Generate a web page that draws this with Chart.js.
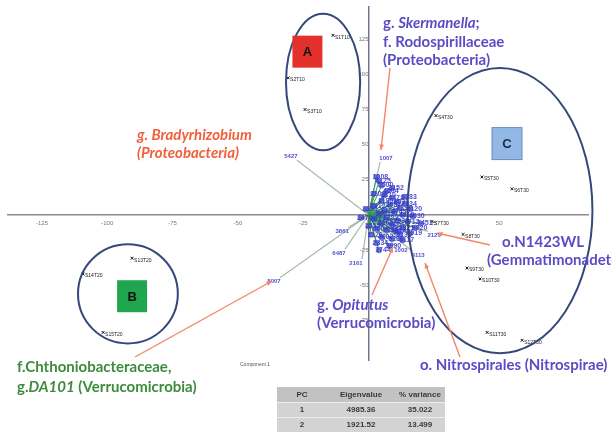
<!DOCTYPE html>
<html>
<head>
<meta charset="utf-8">
<script src="https://cdn.jsdelivr.net/npm/chart.js@4.4.1/dist/chart.umd.min.js"></script>
<style>
  html, body { margin: 0; padding: 0; background: #fff; }
</style>
</head>
<body>
<canvas id="pcaChart" width="612" height="433"></canvas>
<script>
// sample scores (component 1, component 2)
const sampleNames = ['S1T10', 'S2T10', 'S3T10', 'S4T30', 'S5T30', 'S6T30', 'S7T30', 'S8T30', 'S9T30', 'S10T30', 'S11T30', 'S12T30', 'S13T20', 'S14T20', 'S15T20'];
const sampleX = [-13.6, -30.8, -24.3, 25.8, 43.4, 54.9, 24.3, 36.2, 37.7, 42.7, 45.4, 58.8, -90.5, -109.3, -101.6];
const sampleY = [127.6, 97.4, 74.9, 70.6, 27.0, 18.6, -4.6, -13.8, -37.7, -45.4, -83.4, -89.0, -30.7, -41.9, -83.4];

// long OTU loadings (drawn as vectors)
const loadNames = ['5427', '1007', '8007', '3861', '6487', '2161', '1002', '4113', '2120'];
const loadX = [-27.4, 4.4, -33.9, -7.8, -9.0, -2.5, 10.1, 16.7, 22.8];
const loadY = [38.9, 37.5, -44.6, -8.9, -24.3, -31.4, -22.2, -25.7, -11.7];

// short OTU loadings around the origin
const otuNames = ['1008', '4125', '5500', '2203', '3310', '4471', '1190', '6021', '7334', '2087', '5512', '3390', '8120', '1466', '2745', '3001', '4419', '6630', '1283', '5077', '2938', '7712', '3365', '4480', '1921', '6604', '2551', '3877', '7019', '1120', '4602', '5288', '6117', '2334', '3990', '1555', '2470', '3615', '7451', '6920', '5133', '4004', '3152', '6283', '1744', '2619'];
const otuX = [3, 4, 5, 2, 6, 9, 5, 11, 14, 8, 2, 12, 16, 6, 10, 4, 13, 17, 7, 2, 11, 15, 5, 9, 13, 3, 7, 11, 16, 1, 5, 9, 13, 3, 8, 0, -3, -1, 20, 18, 12, 7, 9, 14, 4, 10];
const otuY = [27, 24, 21, 15, 14, 12, 10, 9, 8, 7, 6, 5, 4, 3, 2, 1, 0, -1, -2, -3, -4, -5, -6, -7, -9, -10, -11, -12, -13, -14, -16, -17, -18, -20, -22, -8, -2, 4, -6, -9, -14, 17, 19, 13, -25, -11];

// eigenvalue table
const pcLabels = ['1', '2'];
const eigenvalues = ['4985.36', '1921.52'];
const variances = ['35.022', '13.499'];

const xTicks = [-125, -100, -75, -50, -25, 25, 50];
const yTicks = [-75, -50, -25, 25, 50, 75, 100, 125];

// groups drawn as ellipses, in data units
const groups = [
  { name: 'A', cx: -17.4, cy: 94.5, rx: 14.2, ry: 48.5, box: [-23.4, 116.0], fill: '#e4302a', text: '#111' },
  { name: 'B', cx: -92.1, cy: -56.0, rx: 19.1, ry: 35.2, box: [-90.5, -57.7], fill: '#1fa64f', text: '#111' },
  { name: 'C', cx: 50.3, cy: 3.1, rx: 35.4, ry: 101.3, box: [53.0, 50.7], fill: '#92b9e6', text: '#1d2a44' }
];

const purple = '#5a4cc4';
const notes = [
  { x: 383, y: 23, color: purple, parts: [['g. ', 0], ['Skermanella', 1], [';', 0]] },
  { x: 383, y: 42, color: purple, parts: [['f. Rodospirillaceae', 0]] },
  { x: 383, y: 60, color: purple, parts: [['(Proteobacteria)', 0]] },
  { x: 137, y: 135, color: '#f1603c', parts: [['g. Bradyrhizobium', 1]] },
  { x: 137, y: 153, color: '#f1603c', parts: [['(Proteobacteria)', 1]] },
  { x: 502, y: 242, color: purple, parts: [['o.N1423WL', 0]] },
  { x: 487, y: 260, color: purple, parts: [['(Gemmatimonadetes)', 0]] },
  { x: 317, y: 305, color: purple, parts: [['g. ', 0], ['Opitutus', 1]] },
  { x: 317, y: 323, color: purple, parts: [['(Verrucomicrobia)', 0]] },
  { x: 420, y: 365, color: purple, parts: [['o. Nitrospirales (Nitrospirae)', 0]] },
  { x: 17, y: 367, color: '#3c8c3c', parts: [['f.Chthoniobacteraceae,', 0]] },
  { x: 17, y: 387, color: '#3c8c3c', parts: [['g.', 0], ['DA101', 1], [' (Verrucomicrobia)', 0]] }
];

const arrows = [
  [390, 68, 381, 150],
  [135, 357, 272, 281],
  [490, 245, 437, 233],
  [460, 357, 425, 263],
  [372, 295, 393, 247]
];

function drawArrow(ctx, x1, y1, x2, y2) {
  const a = Math.atan2(y2 - y1, x2 - x1);
  ctx.strokeStyle = '#f3866a';
  ctx.fillStyle = '#f3866a';
  ctx.lineWidth = 1.4;
  ctx.beginPath();
  ctx.moveTo(x1, y1);
  ctx.lineTo(x2, y2);
  ctx.stroke();
  ctx.beginPath();
  ctx.moveTo(x2, y2);
  ctx.lineTo(x2 - 6 * Math.cos(a - 0.4), y2 - 6 * Math.sin(a - 0.4));
  ctx.lineTo(x2 - 6 * Math.cos(a + 0.4), y2 - 6 * Math.sin(a + 0.4));
  ctx.closePath();
  ctx.fill();
}

const overlay = {
  id: 'overlay',
  afterDatasetsDraw(chart) {
    const { ctx, scales: { x, y } } = chart;
    ctx.save();

    // OTU labels
    ctx.font = 'bold 7px "Liberation Sans"';
    ctx.fillStyle = 'rgba(58, 60, 205, 0.9)';
    ctx.textAlign = 'center';
    ctx.textBaseline = 'middle';
    otuNames.forEach((n, i) => ctx.fillText(n, x.getPixelForValue(otuX[i]) + 4, y.getPixelForValue(otuY[i])));
    ctx.font = 'bold 6px "Liberation Sans"';
    loadNames.forEach((n, i) => {
      const px = x.getPixelForValue(loadX[i]);
      const py = y.getPixelForValue(loadY[i]);
      ctx.fillText(n, px + (loadX[i] < 0 ? -6 : 6), py + (loadY[i] < 0 ? 4 : -4));
    });

    // sample labels
    ctx.font = '5px "Liberation Sans"';
    ctx.fillStyle = '#222';
    ctx.textAlign = 'left';
    sampleNames.forEach((n, i) => ctx.fillText(n, x.getPixelForValue(sampleX[i]) + 2, y.getPixelForValue(sampleY[i]) + 2));

    // group ellipses and boxes
    groups.forEach(g => {
      const cx = x.getPixelForValue(g.cx);
      const cy = y.getPixelForValue(g.cy);
      const rx = Math.abs(x.getPixelForValue(g.cx + g.rx) - cx);
      const ry = Math.abs(y.getPixelForValue(g.cy + g.ry) - cy);
      ctx.strokeStyle = '#34497a';
      ctx.lineWidth = 2;
      ctx.beginPath();
      ctx.ellipse(cx, cy, rx, ry, 0, 0, Math.PI * 2);
      ctx.stroke();
      const bx = x.getPixelForValue(g.box[0]);
      const by = y.getPixelForValue(g.box[1]);
      ctx.fillStyle = g.fill;
      ctx.fillRect(bx - 15, by - 16, 30, 32);
      if (g.name === 'C') {
        ctx.strokeStyle = '#6d8bb3';
        ctx.lineWidth = 1;
        ctx.strokeRect(bx - 15, by - 16, 30, 32);
      }
      ctx.fillStyle = g.text;
      ctx.font = 'bold 13px "Liberation Sans"';
      ctx.textAlign = 'center';
      ctx.fillText(g.name, bx, by + 1);
    });

    // arrows
    arrows.forEach(a => drawArrow(ctx, a[0], a[1], a[2], a[3]));

    // annotations
    ctx.textAlign = 'left';
    ctx.textBaseline = 'middle';
    notes.forEach(n => {
      let px = n.x;
      n.parts.forEach(([t, it]) => {
        ctx.font = (it ? 'italic ' : '') + 'bold 15px Lato';
        ctx.fillStyle = n.color;
        ctx.fillText(t, px, n.y);
        px += ctx.measureText(t).width;
      });
    });

    ctx.font = '5px "Liberation Sans"';
    ctx.fillStyle = '#555';
    ctx.fillText('Component 1', 240, 365);

    // eigenvalue table
    const tx = 277, tw = 168, cols = [302, 361, 420];
    ctx.fillStyle = '#d3d3d3';
    ctx.fillRect(tx, 387, tw, 45);
    ctx.fillStyle = '#c2c2c2';
    ctx.fillRect(tx, 387, tw, 15);
    ctx.strokeStyle = '#ececec';
    ctx.lineWidth = 1;
    ctx.beginPath();
    ctx.moveTo(tx, 402.5); ctx.lineTo(tx + tw, 402.5);
    ctx.moveTo(tx, 417.5); ctx.lineTo(tx + tw, 417.5);
    ctx.stroke();
    ctx.font = 'bold 8px "Liberation Sans"';
    ctx.fillStyle = '#3a3a3a';
    ctx.textAlign = 'center';
    ['PC', 'Eigenvalue', '% variance'].forEach((h, i) => ctx.fillText(h, cols[i], 395));
    pcLabels.forEach((p, r) => {
      const ry = 410 + r * 15;
      ctx.fillText(p, cols[0], ry);
      ctx.fillText(eigenvalues[r], cols[1], ry);
      ctx.fillText(variances[r], cols[2], ry);
    });

    ctx.restore();
  }
};

const datasets = [
  {
    label: 'Samples',
    data: sampleX.map((v, i) => ({ x: v, y: sampleY[i] })),
    pointStyle: 'crossRot',
    pointRadius: 2,
    borderColor: '#111',
    borderWidth: 1,
    order: 1
  },
  {
    label: 'OTUs',
    data: otuX.map((v, i) => ({ x: v, y: otuY[i] })),
    pointRadius: 3,
    backgroundColor: 'rgba(60, 62, 210, 0.7)',
    borderWidth: 0,
    order: 2
  }
];
otuX.forEach((v, i) => datasets.push({
  data: [{ x: 0, y: 0 }, { x: v, y: otuY[i] }],
  showLine: true,
  borderColor: '#2e9a4a',
  borderWidth: 1,
  pointRadius: 0,
  order: 4
}));
loadX.forEach((v, i) => datasets.push({
  data: [{ x: 0, y: 0 }, { x: v, y: loadY[i] }],
  showLine: true,
  borderColor: '#a7bba7',
  borderWidth: 1.2,
  pointRadius: 0,
  order: 5
}));

new Chart(document.getElementById('pcaChart'), {
  type: 'scatter',
  data: { datasets: datasets },
  options: {
    responsive: false,
    animation: false,
    devicePixelRatio: 1,
    layout: { padding: { left: 8, right: 24, top: 3, bottom: 73 } },
    plugins: { legend: { display: false }, tooltip: { enabled: false } },
    scales: {
      x: {
        type: 'linear',
        position: { y: 0 },
        min: -138,
        max: 84,
        afterBuildTicks: s => { s.ticks = xTicks.map(v => ({ value: v })); },
        grid: { display: false, drawTicks: false },
        border: { color: '#8c8c8c', width: 1.5 },
        ticks: { font: { size: 6, family: 'Liberation Sans' }, color: '#777', padding: 5 }
      },
      y: {
        type: 'linear',
        position: { x: 0 },
        min: -103,
        max: 148,
        afterBuildTicks: s => { s.ticks = yTicks.map(v => ({ value: v })); },
        grid: { display: false, drawTicks: false },
        border: { color: '#6f7790', width: 1.5 },
        ticks: { font: { size: 6, family: 'Liberation Sans' }, color: '#777', padding: 3 }
      }
    }
  },
  plugins: [overlay]
});
</script>
</body>
</html>
